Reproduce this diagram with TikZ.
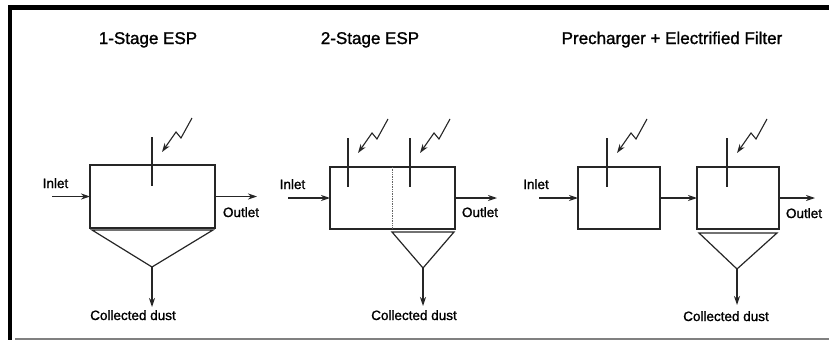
\documentclass[tikz,border=0pt]{standalone}
\usepackage{fontspec}
\setmainfont{Liberation Sans}[FakeBold=1.3]
\usetikzlibrary{arrows.meta}
\begin{document}
\begin{tikzpicture}[x=1pt,y=-1pt,
  ink/.style={draw=black!85, line width=1.2pt},
  unit/.style={ink, inner sep=0pt, outer sep=0pt, fill=white},
  flow/.style={ink, -{Stealth[length=9pt,width=6pt]}},
  ttl/.style={font=\fontsize{17}{20}\selectfont, anchor=base, inner sep=0pt},
  lbl/.style={font=\fontsize{13.5}{16}\selectfont, anchor=base, inner sep=0pt},
  boltpic/.pic={\draw[draw=black!85, line width=1.1pt, -{Stealth[length=9pt,width=6pt]}]
      (40,-19) -- (29,1) -- (24,-5) -- (10,15);
    \draw[ink] (0,0) -- (0,49);},
]
\useasboundingbox (0,0) rectangle (829,340);
% frame
\fill[black] (8,5) rectangle (12,340);
\fill[black] (8,5) rectangle (829,10);
\fill[black!50] (15,337.5) rectangle (829,340);

% titles
\node[ttl] (t1) at (148,44) {1-Stage ESP};
\node[ttl] (t2) at (370,44) {2-Stage ESP};
\node[ttl] (t3) at (672,44) {Precharger + Electrified Filter};

% ---------- 1-stage ----------
\node[unit, minimum width=125pt, minimum height=63pt] (b1) at (152.5,196.5) {};
\pic at (152,137) {boltpic};
\draw[ink] (92,230) -- (213,230) -- (152,267) -- cycle;
\coordinate (ap1) at (152,267);
\coordinate (d1) at (152,307);
\draw[flow] (ap1) -- (d1);
\node[lbl] (c1) at (133,320) {Collected dust};
\coordinate (in1) at (52,196.5);
\draw[flow] (in1) -- (b1.west);
\node[lbl] (il1) at (55.5,188) {Inlet};
\coordinate (out1) at (257,196.5);
\draw[flow] (b1.east) -- (out1);
\node[lbl] (ol1) at (241,217) {Outlet};

% ---------- 2-stage ----------
\node[unit, minimum width=125pt, minimum height=62pt] (b2) at (392.5,198) {};
\draw[draw=black!60, line width=0.7pt, densely dotted] (b2.north) -- (b2.south);
\pic at (348,138) {boltpic};
\pic at (410,138) {boltpic};
\draw[ink] (392,232) -- (454,232) -- (423,268) -- cycle;
\coordinate (ap2) at (423,268);
\coordinate (d2) at (423,306);
\draw[flow] (ap2) -- (d2);
\node[lbl] (c2) at (414,320) {Collected dust};
\coordinate (in2) at (288,198);
\draw[flow] (in2) -- (b2.west);
\node[lbl] (il2) at (292.5,189) {Inlet};
\coordinate (out2) at (497,198);
\draw[flow] (b2.east) -- (out2);
\node[lbl] (ol2) at (480,217) {Outlet};

% ---------- precharger + filter ----------
\node[unit, minimum width=82pt, minimum height=62pt] (b3) at (619,198) {};
\node[unit, minimum width=82pt, minimum height=62pt] (b4) at (738,198) {};
\pic at (607,138) {boltpic};
\pic at (727,138) {boltpic};
\draw[ink] (699,233) -- (777,233) -- (737,269) -- cycle;
\coordinate (ap3) at (737,269);
\coordinate (d3) at (737,305);
\draw[flow] (ap3) -- (d3);
\node[lbl] (c3) at (726,321) {Collected dust};
\coordinate (in3) at (539,198);
\draw[flow] (in3) -- (b3.west);
\node[lbl] (il3) at (536,189) {Inlet};
\draw[flow] (b3.east) -- (b4.west);
\coordinate (out3) at (815,198);
\draw[flow] (b4.east) -- (out3);
\node[lbl] (ol3) at (804,218) {Outlet};
\end{tikzpicture}
\end{document}
